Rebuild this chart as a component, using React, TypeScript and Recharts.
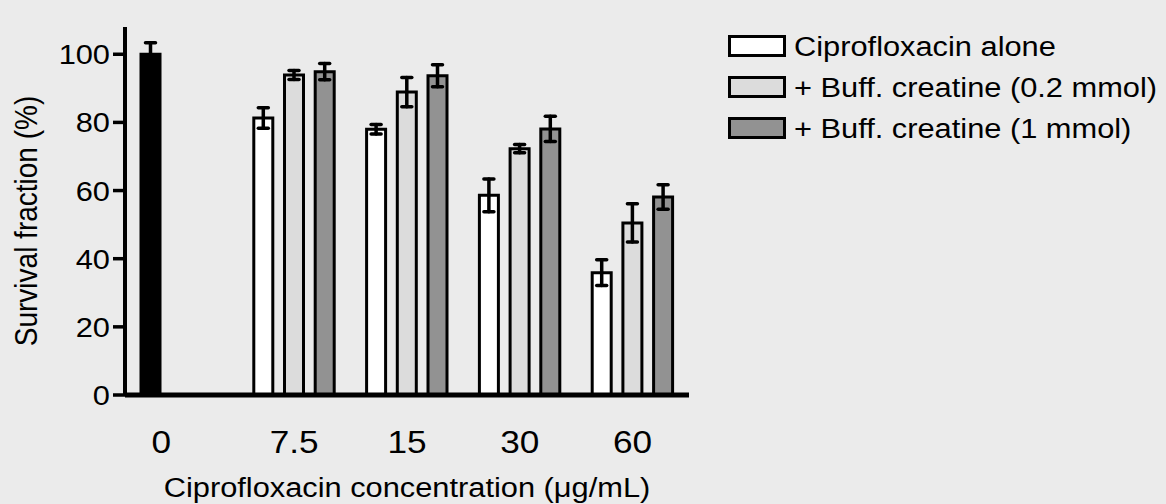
import React from 'react';
import { BarChart, Bar, XAxis, YAxis, ErrorBar, Cell, Legend } from 'recharts';

const categories = ['0', '7.5', '15', '30', '60'];
const aloneValues = [100, 81.3, 78.0, 58.6, 35.9];
const aloneErrors = [3.4, 3.0, 1.4, 4.8, 3.8];
const lowValues = [null, 93.9, 88.9, 72.3, 50.5];
const lowErrors = [null, 1.3, 4.3, 1.2, 5.6];
const highValues = [null, 94.9, 93.7, 78.1, 58.1];
const highErrors = [null, 2.4, 3.2, 3.7, 3.6];
const yTicks = [0, 20, 40, 60, 80, 100];
const seriesNames = ['Ciprofloxacin alone', '+ Buff. creatine (0.2 mmol)', '+ Buff. creatine (1 mmol)'];
const controlCategory = '0';
const xTitle = 'Ciprofloxacin concentration (\u03bcg/mL)';
const yTitle = 'Survival fraction (%)';

const FONT = '"Liberation Sans", Arial, Helvetica, sans-serif';
const SX = 1.1;
const BG = '#ebebeb';
const fills = ['#ffffff', '#dcdcdc', '#929292'];
const controlFill = '#000000';

const data = categories.map((c, i) => ({
  conc: c,
  alone: aloneValues[i],
  aloneErr: aloneErrors[i],
  low: lowValues[i],
  lowErr: lowErrors[i],
  high: highValues[i],
  highErr: highErrors[i],
}));

const YTick = (props: any) => {
  const { x, y, payload } = props;
  return (
    <text
      transform={`translate(${x},${y + 10}) scale(${SX},1)`}
      textAnchor="end"
      fontSize={28}
      fontFamily={FONT}
      fill="#000"
    >
      {payload.value}
    </text>
  );
};

const XTick = (props: any) => {
  const { x, y, payload } = props;
  const shift = payload.value === controlCategory ? -20 : 0;
  return (
    <text
      transform={`translate(${x + shift},${y + 58}) scale(${SX},1)`}
      textAnchor="middle"
      fontSize={32}
      fontFamily={FONT}
      fill="#000"
    >
      {payload.value}
    </text>
  );
};

const YLabel = (props: any) => {
  const vb = props.viewBox || { x: 0, y: 27, width: 125, height: 368 };
  const cx = vb.x + 37;
  const cy = vb.y + vb.height / 2 + 10;
  return (
    <text
      transform={`translate(${cx},${cy}) scale(${SX},1) rotate(-90)`}
      textAnchor="middle"
      fontSize={28}
      fontFamily={FONT}
      fill="#000"
    >
      {yTitle}
    </text>
  );
};

const XLabel = (props: any) => {
  const vb = props.viewBox || { x: 125, y: 395, width: 563.5, height: 109 };
  const cx = vb.x + vb.width / 2;
  const cy = vb.y + 102;
  return (
    <text
      transform={`translate(${cx},${cy}) scale(${SX},1)`}
      textAnchor="middle"
      fontSize={28}
      fontFamily={FONT}
      fill="#000"
    >
      {xTitle}
    </text>
  );
};

const rowY = [26, 67, 108];

const LegendContent = () => (
  <svg width={446} height={130} style={{ overflow: 'visible', display: 'block' }}>
    {seriesNames.map((n, i) => (
      <g key={n}>
        <rect x={9.5} y={rowY[i] - 9.5} width={55} height={19} fill={fills[i]} stroke="#000" strokeWidth={3} />
        <text
          transform={`translate(74,${rowY[i] + 10}) scale(${SX},1)`}
          fontSize={28}
          fontFamily={FONT}
          fill="#000"
        >
          {n}
        </text>
      </g>
    ))}
  </svg>
);

export default function App() {
  return (
    <div style={{ width: 1166, height: 504, background: BG, position: 'relative' }}>
      <style>{'html,body{margin:0;padding:0;background:#ebebeb;}'}</style>
      <BarChart
        width={1166}
        height={504}
        data={data}
        margin={{ top: 27, right: 477, bottom: 0, left: 0 }}
        barSize={19}
        barGap={11.7}
        barCategoryGap={0}
      >
        <XAxis
          dataKey="conc"
          height={109}
          interval={0}
          tickLine={false}
          tickSize={0}
          tickMargin={0}
          axisLine={{ stroke: '#000', strokeWidth: 5 }}
          tick={<XTick />}
          label={{ content: (p: any) => <XLabel {...p} /> }}
        />
        <YAxis
          width={125}
          domain={[0, 108]}
          ticks={yTicks}
          allowDataOverflow
          tickSize={12}
          tickMargin={3}
          axisLine={{ stroke: '#000', strokeWidth: 4 }}
          tickLine={{ stroke: '#000', strokeWidth: 3.5 }}
          tick={<YTick />}
          label={{ content: (p: any) => <YLabel {...p} /> }}
        />
        <Legend
          layout="vertical"
          align="center"
          verticalAlign="middle"
          wrapperStyle={{ left: 720, top: 20, width: 446, height: 130 }}
          content={<LegendContent />}
        />
        <Bar dataKey="alone" name={seriesNames[0]} fill={fills[0]} stroke="#000" strokeWidth={3} isAnimationActive={false}>
          {data.map((d, i) => (
            <Cell key={i} fill={d.conc === controlCategory ? controlFill : fills[0]} />
          ))}
          <ErrorBar dataKey="aloneErr" direction="y" width={5} stroke="#000" strokeWidth={3.5} strokeLinecap="round" />
        </Bar>
        <Bar dataKey="low" name={seriesNames[1]} fill={fills[1]} stroke="#000" strokeWidth={3} isAnimationActive={false}>
          <ErrorBar dataKey="lowErr" direction="y" width={5} stroke="#000" strokeWidth={3.5} strokeLinecap="round" />
        </Bar>
        <Bar dataKey="high" name={seriesNames[2]} fill={fills[2]} stroke="#000" strokeWidth={3} isAnimationActive={false}>
          <ErrorBar dataKey="highErr" direction="y" width={5} stroke="#000" strokeWidth={3.5} strokeLinecap="round" />
        </Bar>
      </BarChart>
    </div>
  );
}
